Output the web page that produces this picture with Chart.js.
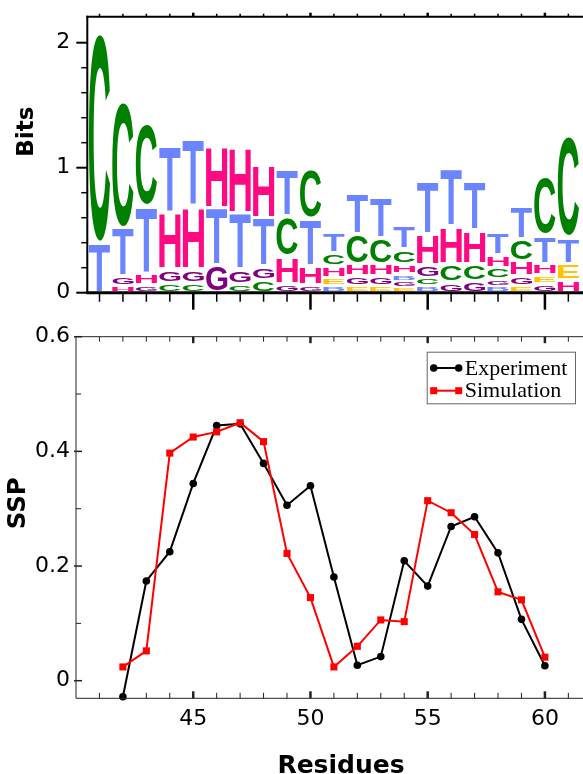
<!DOCTYPE html>
<html>
<head>
<meta charset="utf-8">
<script src="https://cdn.jsdelivr.net/npm/chart.js@4.4.1/dist/chart.umd.min.js"></script>
<style>
  html, body { margin: 0; padding: 0; background: #fff; overflow: hidden; width: 583px; height: 774px; }
  #logoChart { position: absolute; left: 0; top: 0; }
  #sspChart { position: absolute; left: 0; top: 310px; }
</style>
</head>
<body>
<canvas id="logoChart" width="620" height="330"></canvas>
<canvas id="sspChart" width="620" height="470"></canvas>
<script>
// ---- sequence logo (bits per letter, residues 41..61) ----
const logoResidues = [41, 42, 43, 44, 45, 46, 47, 48, 49, 50, 51, 52, 53, 54, 55, 56, 57, 58, 59, 60, 61];
const bitsC = [1.68, 1.01, 0.66, 0.08, 0.08, 0.00, 0.07, 0.10, 0.32, 0.40, 0.11, 0.24, 0.21, 0.12, 0.07, 0.15, 0.14, 0.09, 0.18, 0.47, 0.81];
const bitsT = [0.40, 0.39, 0.54, 0.54, 0.54, 0.46, 0.45, 0.39, 0.38, 0.38, 0.16, 0.33, 0.33, 0.20, 0.42, 0.46, 0.39, 0.19, 0.27, 0.23, 0.21];
const bitsH = [0.00, 0.05, 0.09, 0.45, 0.50, 0.50, 0.53, 0.42, 0.22, 0.15, 0.09, 0.10, 0.10, 0.08, 0.25, 0.30, 0.27, 0.10, 0.12, 0.09, 0.10];
const bitsG = [0.00, 0.08, 0.06, 0.11, 0.11, 0.22, 0.12, 0.11, 0.07, 0.06, 0.00, 0.08, 0.08, 0.05, 0.10, 0.08, 0.09, 0.06, 0.08, 0.07, 0.00];
const bitsE = [0.00, 0.00, 0.00, 0.00, 0.00, 0.00, 0.00, 0.00, 0.00, 0.00, 0.07, 0.05, 0.05, 0.04, 0.00, 0.00, 0.00, 0.00, 0.05, 0.07, 0.13];
const bitsB = [0.00, 0.00, 0.00, 0.00, 0.00, 0.00, 0.00, 0.00, 0.00, 0.00, 0.05, 0.00, 0.00, 0.06, 0.05, 0.00, 0.00, 0.05, 0.00, 0.00, 0.00];
const bitsTicks = [0, 1, 2];

// ---- SSP profile ----
const residues = [42, 43, 44, 45, 46, 47, 48, 49, 50, 51, 52, 53, 54, 55, 56, 57, 58, 59, 60];
const experiment = [-0.028, 0.174, 0.225, 0.344, 0.445, 0.448, 0.379, 0.306, 0.340, 0.181, 0.027, 0.042, 0.209, 0.165, 0.269, 0.286, 0.223, 0.107, 0.026];
const simulation = [0.024, 0.052, 0.397, 0.425, 0.434, 0.450, 0.417, 0.222, 0.145, 0.024, 0.060, 0.106, 0.103, 0.314, 0.293, 0.255, 0.155, 0.141, 0.041];
const sspTicks = [0, 0.2, 0.4, 0.6];
const residueTicks = [45, 50, 55, 60];

const letterColors = { C: '#008000', T: '#6a85ff', H: '#ff0a82', G: '#800080', E: '#ffc400', B: '#6a85ff' };
const tickFont = { family: 'DejaVu Sans', size: 22 };

function columnStack(i) {
  return [['C', bitsC[i]], ['T', bitsT[i]], ['H', bitsH[i]], ['G', bitsG[i]], ['E', bitsE[i]], ['B', bitsB[i]]]
    .filter(d => d[1] > 0)
    .sort((a, b) => a[1] - b[1]);
}

function drawGlyph(ctx, ch, color, x0, x1, yTop, yBot) {
  // small vertical gap between stacked letters
  const inset = Math.min(2, (yBot - yTop) * 0.25);
  yTop += inset;
  yBot -= inset;
  ctx.save();
  ctx.font = 'bold 200px "Liberation Sans", Arial, sans-serif';
  const m = ctx.measureText(ch);
  const gw = m.actualBoundingBoxLeft + m.actualBoundingBoxRight;
  const gh = m.actualBoundingBoxAscent + m.actualBoundingBoxDescent;
  ctx.translate(x0, yTop);
  ctx.scale((x1 - x0) / gw, Math.max(yBot - yTop, 0.6) / gh);
  ctx.fillStyle = color;
  ctx.textAlign = 'left';
  ctx.textBaseline = 'alphabetic';
  ctx.fillText(ch, m.actualBoundingBoxLeft, m.actualBoundingBoxAscent);
  ctx.restore();
}

function seg(ctx, x1, y1, x2, y2, w) {
  ctx.lineWidth = w;
  ctx.beginPath();
  ctx.moveTo(x1, y1);
  ctx.lineTo(x2, y2);
  ctx.stroke();
}

const logoPlugin = {
  id: 'logo',
  afterDatasetsDraw(chart) {
    const { ctx, scales: { x, y } } = chart;
    const w = (x.getPixelForValue(1) - x.getPixelForValue(0)) * 0.9;
    logoResidues.forEach((r, i) => {
      const xc = x.getPixelForValue(r);
      let base = 0;
      columnStack(i).forEach(([ch, h]) => {
        drawGlyph(ctx, ch, letterColors[ch], xc - w / 2, xc + w / 2,
          y.getPixelForValue(base + h), y.getPixelForValue(base));
        base += h;
      });
    });
  }
};

const logoFrame = {
  id: 'logoFrame',
  afterDraw(chart) {
    const { ctx, chartArea: a, scales: { x, y } } = chart;
    ctx.save();
    ctx.strokeStyle = '#000';
    seg(ctx, a.left, a.top - 1, a.left, a.bottom, 2);
    seg(ctx, a.left - 1, a.top, a.right, a.top, 2);
    seg(ctx, a.left - 1, a.bottom, a.right, a.bottom, 3);
    for (let k = 0; k <= 10; k++) {
      const py = y.getPixelForValue(k * 0.2);
      if (k % 5 === 0) seg(ctx, a.left - 11, py, a.left, py, 2);
      else seg(ctx, a.left - 6, py, a.left, py, 1.5);
    }
    for (let r = Math.ceil(x.min); r <= x.max; r++) {
      const px = x.getPixelForValue(r);
      const major = r % 5 === 0;
      seg(ctx, px, a.bottom, px, a.bottom + (major ? 17 : 9), major ? 2.5 : 1.5);
      seg(ctx, px, a.top, px, a.top - (major ? 4 : 3), major ? 2.5 : 1.5);
    }
    ctx.font = 'bold 23px "DejaVu Sans"';
    ctx.fillStyle = '#000';
    ctx.textAlign = 'center';
    ctx.textBaseline = 'middle';
    ctx.translate(27, a.top + 115);
    ctx.rotate(-Math.PI / 2);
    ctx.fillText('Bits', 0, 0);
    ctx.restore();
  }
};

const sspFrame = {
  id: 'sspFrame',
  afterDraw(chart) {
    const { ctx, chartArea: a, scales: { x, y } } = chart;
    ctx.save();
    ctx.strokeStyle = '#222';
    seg(ctx, a.left, a.top, a.left, a.bottom, 1);
    seg(ctx, a.left, a.top, a.right, a.top, 1);
    seg(ctx, a.left, a.bottom, a.right, a.bottom, 1);
    sspTicks.forEach((v, i) => {
      const py = y.getPixelForValue(v);
      seg(ctx, a.left - 2, py, a.left + 6, py, 1.5);
      if (i < sspTicks.length - 1) {
        const pm = y.getPixelForValue((v + sspTicks[i + 1]) / 2);
        seg(ctx, a.left, pm, a.left + 5, pm, 1);
      }
    });
    for (let r = Math.ceil(x.min) + 1; r <= x.max; r++) {
      const px = x.getPixelForValue(r);
      const major = r % 5 === 0;
      seg(ctx, px, a.bottom, px, a.bottom - (major ? 7 : 5.5), major ? 2.5 : 1);
      seg(ctx, px, a.top, px, a.top + (major ? 6.5 : 5), major ? 2.5 : 1);
    }
    ctx.fillStyle = '#000';
    ctx.font = 'bold 25px "DejaVu Sans"';
    ctx.textAlign = 'center';
    ctx.textBaseline = 'alphabetic';
    ctx.fillText('Residues', (a.left + a.right) / 2 + 3, a.bottom + 75);
    ctx.save();
    ctx.textBaseline = 'middle';
    ctx.font = 'bold 24.5px "DejaVu Sans"';
    ctx.translate(19, a.top + 166.6);
    ctx.rotate(-Math.PI / 2);
    ctx.fillText('SSP', 0, 0);
    ctx.restore();

    // legend
    const bx = a.right - 173.3, by = a.top + 15, bw = 148.3, bh = 51.6;
    ctx.strokeStyle = '#666';
    ctx.lineWidth = 1;
    ctx.strokeRect(bx + 0.5, by + 0.5, bw, bh);
    ctx.font = '22px "Liberation Serif"';
    ctx.textAlign = 'left';
    ctx.textBaseline = 'middle';
    chart.data.datasets.forEach((ds, i) => {
      const ry = by + 16.3 + i * 22.7;
      ctx.strokeStyle = ds.borderColor;
      ctx.fillStyle = ds.borderColor;
      seg(ctx, bx + 7, ry, bx + 32, ry, 2);
      [bx + 7, bx + 32].forEach(mx => {
        if (ds.pointStyle === 'rect') ctx.fillRect(mx - 3.5, ry - 3.5, 7, 7);
        else { ctx.beginPath(); ctx.arc(mx, ry, 3.8, 0, Math.PI * 2); ctx.fill(); }
      });
      ctx.fillStyle = '#000';
      ctx.fillText(ds.label, bx + 38, ry + 1);
    });
    ctx.restore();
  }
};

new Chart(document.getElementById('logoChart'), {
  type: 'scatter',
  data: { datasets: [{ data: [] }] },
  options: {
    responsive: false,
    animation: false,
    layout: { padding: { left: 0, right: 20, top: 16.7, bottom: 0 } },
    plugins: { legend: { display: false }, tooltip: { enabled: false } },
    scales: {
      x: {
        type: 'linear', min: 40.48, max: 62.35,
        ticks: { display: false },
        grid: { display: false, drawTicks: false },
        border: { display: false },
        afterFit: s => { s.height = 37.3; }
      },
      y: {
        min: 0, max: 2.208,
        afterBuildTicks: s => { s.ticks = bitsTicks.map(v => ({ value: v })); },
        ticks: { font: tickFont, color: '#000', padding: 17 },
        grid: { display: false, drawTicks: false },
        border: { display: false },
        afterFit: s => { s.width = 87.3; s.paddingTop = 0; s.paddingBottom = 0; }
      }
    }
  },
  plugins: [logoPlugin, logoFrame]
});

new Chart(document.getElementById('sspChart'), {
  type: 'scatter',
  data: {
    datasets: [
      {
        label: 'Experiment',
        data: residues.map((r, i) => ({ x: r, y: experiment[i] })),
        borderColor: '#000', backgroundColor: '#000',
        borderWidth: 2, pointStyle: 'circle', pointRadius: 3.8, pointBorderWidth: 0,
        showLine: true, tension: 0, clip: false, order: 2
      },
      {
        label: 'Simulation',
        data: residues.map((r, i) => ({ x: r, y: simulation[i] })),
        borderColor: '#ff0000', backgroundColor: '#ff0000',
        borderWidth: 2, pointStyle: 'rect', pointRadius: 5, pointBorderWidth: 0,
        showLine: true, tension: 0, clip: false, order: 1
      }
    ]
  },
  options: {
    responsive: false,
    animation: false,
    layout: { padding: { left: 0, right: 20, top: 26.7, bottom: 0 } },
    plugins: { legend: { display: false }, tooltip: { enabled: false } },
    scales: {
      x: {
        type: 'linear', min: 40, max: 62.35,
        afterBuildTicks: s => { s.ticks = residueTicks.map(v => ({ value: v })); },
        ticks: { font: tickFont, color: '#000', padding: 8 },
        grid: { display: false, drawTicks: false },
        border: { display: false },
        afterFit: s => { s.height = 81.7; }
      },
      y: {
        min: -0.0307, max: 0.6,
        afterBuildTicks: s => { s.ticks = sspTicks.map(v => ({ value: v })); },
        ticks: { font: tickFont, color: '#000', padding: 6, callback: v => v === 0 ? '0' : v.toFixed(1) },
        grid: { display: false, drawTicks: false },
        border: { display: false },
        afterFit: s => { s.width = 76; s.paddingTop = 0; s.paddingBottom = 0; }
      }
    }
  },
  plugins: [sspFrame]
});
</script>
</body>
</html>
